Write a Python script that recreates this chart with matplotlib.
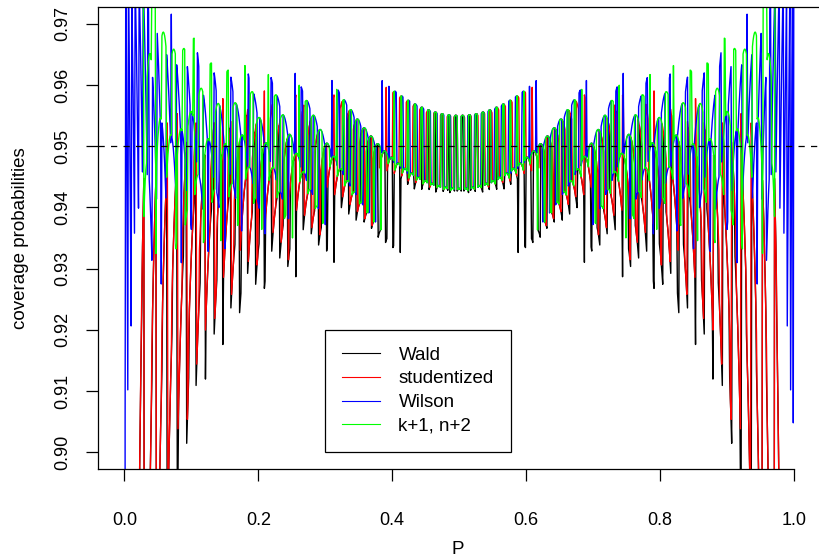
import numpy as np
import matplotlib
matplotlib.use("Agg")
import matplotlib.pyplot as plt
from math import comb
from matplotlib.lines import Line2D

# setup of the simulation shown in the chart
n_trials = 100
z_975 = 1.959964         # qnorm(0.975)
t_975 = 1.984217         # qt(0.975, 99)
p_step = 0.001
nominal = 0.95

method_names = ["Wald", "studentized", "Wilson", "k+1, n+2"]
method_colors = ["black", "red", "blue", "#00FF00"]

x_ticks = [0.0, 0.2, 0.4, 0.6, 0.8, 1.0]
y_ticks = [0.90, 0.91, 0.92, 0.93, 0.94, 0.95, 0.96, 0.97]


# intervals for every k
def bounds(method, n):
    k = np.arange(n + 1)
    ph = k / n
    if method == "Wald":
        h = z_975 * np.sqrt(ph * (1 - ph) / n)
        return ph - h, ph + h
    if method == "studentized":
        h = t_975 * np.sqrt(ph * (1 - ph) / (n - 1))
        return ph - h, ph + h
    if method == "Wilson":
        z2 = z_975 ** 2
        mid = (ph + z2 / (2 * n)) / (1 + z2 / n)
        h = z_975 / (1 + z2 / n) * np.sqrt(ph * (1 - ph) / n + z2 / (4 * n * n))
        return mid - h, mid + h
    pt = (k + 1) / (n + 2)
    h = z_975 * np.sqrt(pt * (1 - pt) / (n + 2))
    return pt - h, pt + h


def coverage(method, n, p):
    lo, hi = bounds(method, n)
    k = np.arange(n + 1)
    c = np.array([comb(n, int(i)) for i in k], dtype=float)
    pmf = c[None, :] * np.power(p[:, None], k[None, :]) * np.power(1 - p[:, None], (n - k)[None, :])
    inside = (lo[None, :] < p[:, None]) & (p[:, None] < hi[None, :])
    return (pmf * inside).sum(axis=1)


p = np.arange(0, 1 + p_step / 2, p_step)

plt.rcParams['font.family'] = ['Liberation Sans', 'DejaVu Sans']
fig = plt.figure(figsize=(8.2, 5.6), dpi=100)
ax = fig.add_axes([0.1191, 0.162, 0.8818, 0.826])

for name, col in zip(method_names, method_colors):
    ax.plot(p, coverage(name, n_trials, p), color=col, linewidth=1.0)

ax.axhline(nominal, color="black", linestyle=(0, (5, 5)), linewidth=0.9)

ax.set_xlim(-0.04, 1.04)
ax.set_ylim(0.9 - 0.0028, 0.97 + 0.0028)
ax.set_xticks(x_ticks)
ax.set_xticklabels([f"{v:.1f}" for v in x_ticks])
ax.set_yticks(y_ticks)
ax.set_yticklabels([f"{v:.2f}" for v in y_ticks], rotation=90, va="center")
ax.tick_params(length=8.5, width=0.9, labelsize=13)
ax.tick_params(axis="x", pad=22)
ax.tick_params(axis="y", pad=10.5)
ax.spines["right"].set_visible(False)
ax.spines["bottom"].set_bounds(-0.04, 1.0)
for s in ["left", "top", "bottom"]:
    ax.spines[s].set_linewidth(0.9)

# axis titles placed like R's mtext lines
fig.text(458 / 820, 1 - 549 / 560, "P", fontsize=13.5, ha="center", va="center")
fig.text(21 / 820, 1 - 238 / 560, "coverage probabilities", fontsize=13.5,
         rotation=90, ha="center", va="center")

handles = [Line2D([], [], color=c, linewidth=0.8) for c in method_colors]
leg = ax.legend(handles, method_names, loc="upper left", bbox_to_anchor=(0.3, 0.92),
                bbox_transform=ax.transData, borderaxespad=0, fontsize=13.5,
                fancybox=False, framealpha=1, edgecolor="black", handlelength=2.0,
                handletextpad=1.0, labelspacing=0.35, borderpad=0.9)
leg.get_frame().set_linewidth(0.9)

fig.savefig("out.png", dpi=100)
